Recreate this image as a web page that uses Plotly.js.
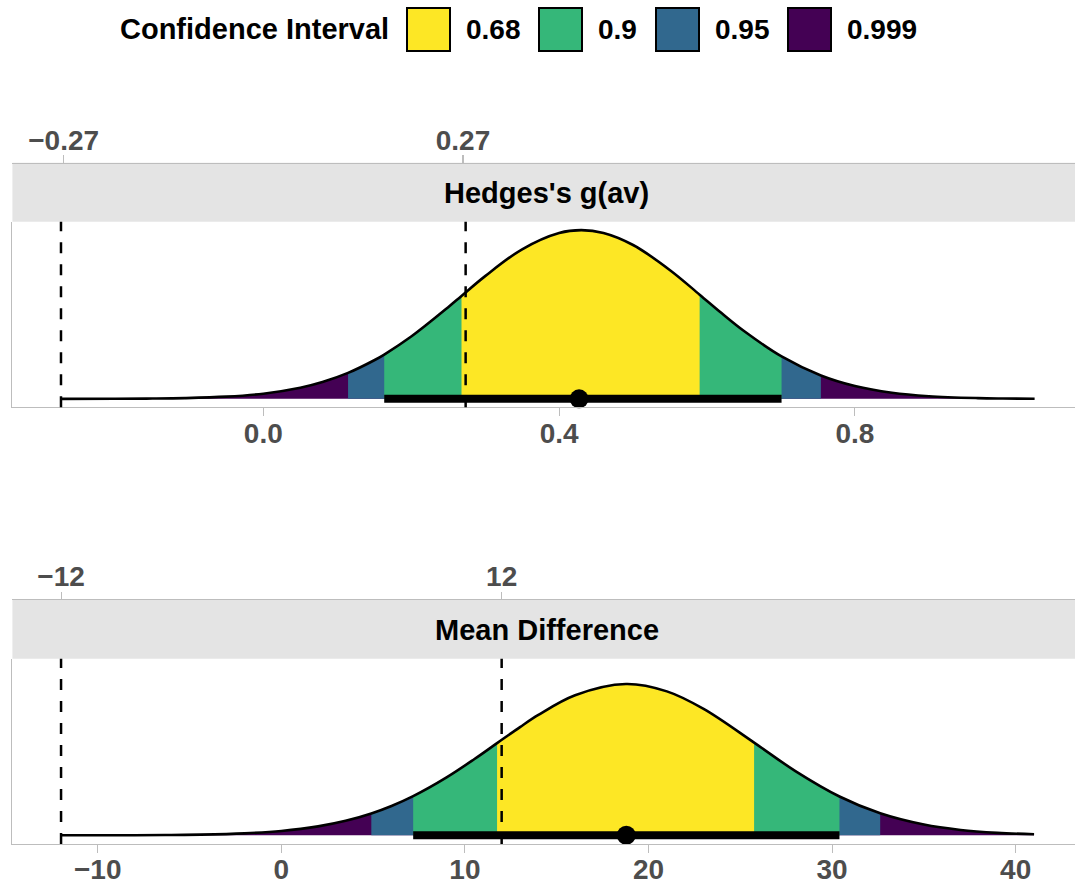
<!DOCTYPE html>
<html>
<head>
<meta charset="utf-8">
<script src="https://cdn.plot.ly/plotly-3.0.1.min.js"></script>
<style>html,body{margin:0;padding:0;background:#fff;}#chart{width:1075px;height:881px;}</style>
</head>
<body>
<div id="chart"></div>
<script>
// ---------- data ----------
const levels = ['0.68', '0.9', '0.95', '0.999'];

// Hedges's g(av) panel
const hedgesX = [-0.2736, -0.2, -0.15, -0.106, -0.05, 0.0, 0.05, 0.08, 0.1146, 0.15, 0.1635, 0.2, 0.25, 0.268, 0.3, 0.35, 0.4, 0.43, 0.46, 0.5, 0.55, 0.59, 0.62, 0.65, 0.7008, 0.754, 0.8, 0.85, 0.9, 0.966, 1.0, 1.043];
const hedgesY = [0.0001, 0.0006, 0.0018, 0.0045, 0.0131, 0.0308, 0.0661, 0.0998, 0.1538, 0.2288, 0.2627, 0.3695, 0.5435, 0.6102, 0.7276, 0.8866, 0.9832, 1.0, 0.9832, 0.9119, 0.7626, 0.6177, 0.5070, 0.4022, 0.2516, 0.1387, 0.0761, 0.0362, 0.0157, 0.0045, 0.0022, 0.0009];
const hedgesLower = [0.268, 0.1635, 0.1146, -0.106];
const hedgesUpper = [0.590, 0.7008, 0.754, 0.966];
const hedgesEstimate = 0.427;
const hedgesBounds = [-0.2736, 0.2736];
const hedgesBoundTicks = [-0.27, 0.27];
const hedgesBoundLabels = ['\u22120.27', '0.27'];
const hedgesTicks = [0.0, 0.4, 0.8];

// Mean Difference panel
const mdX = [-12, -8, -6, -4.4, -2, 0, 2, 3.5, 4.9, 6, 7.18, 9, 10.5, 11.75, 13, 14, 16, 18.77, 21, 23, 25.75, 28, 30.4, 32.62, 35, 37, 39, 41];
const mdY = [0.0001, 0.0007, 0.0021, 0.0045, 0.0130, 0.0289, 0.0591, 0.0957, 0.1444, 0.1939, 0.2589, 0.3829, 0.5026, 0.6091, 0.7154, 0.7954, 0.9257, 1.0, 0.9512, 0.8353, 0.6126, 0.4244, 0.2565, 0.1452, 0.0707, 0.0353, 0.0163, 0.0069];
const mdLower = [11.75, 7.18, 4.9, -4.4];
const mdUpper = [25.75, 30.4, 32.62, 41];
const mdEstimate = 18.79;
const mdBounds = [-12, 12];
const mdBoundTicks = [-12, 12];
const mdBoundLabels = ['\u221212', '12'];
const mdTicks = [-10, 0, 10, 20, 30, 40];

const panelTitles = ["Hedges's g(av)", 'Mean Difference'];

// ---------- styles ----------
const levelColors = ['#FDE725', '#35B779', '#31688E', '#440154'];
const FONT = 'Liberation Sans, Arial, Helvetica, sans-serif';
const W = 1075, H = 881;
const px = v => v / W;
const py = v => 1 - v / H;
const axisGrey = '#BDBDBD';
const tickFont = {family: FONT, size: 28, color: '#4D4D4D', weight: 'bold'};

const traces = [];
function panel(xs, ys, lower, upper, est, xa, ya) {
  // nested CI regions, widest first
  for (let k = levels.length - 1; k >= 0; k--) {
    const sx = [], sy = [];
    for (let i = 0; i < xs.length; i++) {
      if (xs[i] >= lower[k] - 1e-9 && xs[i] <= upper[k] + 1e-9) { sx.push(xs[i]); sy.push(ys[i]); }
    }
    traces.push({x: sx, y: sy, xaxis: xa, yaxis: ya, type: 'scatter', mode: 'lines',
      fill: 'tozeroy', fillcolor: levelColors[k], line: {width: 0, shape: 'spline', color: levelColors[k]},
      hoverinfo: 'skip', showlegend: false});
  }
  // outline
  traces.push({x: xs, y: ys, xaxis: xa, yaxis: ya, type: 'scatter', mode: 'lines',
    line: {color: '#000', width: 2.6, shape: 'spline'}, hoverinfo: 'skip', showlegend: false});
  // 90% CI bar
  traces.push({x: [lower[1], upper[1]], y: [0, 0], xaxis: xa, yaxis: ya, type: 'scatter', mode: 'lines',
    line: {color: '#000', width: 8}, hoverinfo: 'skip', showlegend: false});
  // point estimate
  traces.push({x: [est], y: [0], xaxis: xa, yaxis: ya, type: 'scatter', mode: 'markers',
    marker: {color: '#000', size: 19}, cliponaxis: false, hoverinfo: 'skip', showlegend: false});
}
panel(hedgesX, hedgesY, hedgesLower, hedgesUpper, hedgesEstimate, 'x', 'y');
panel(mdX, mdY, mdLower, mdUpper, mdEstimate, 'x3', 'y3');
// invisible traces so the top (bound) axes are drawn
traces.push({x: hedgesBoundTicks, y: [0, 0], xaxis: 'x2', yaxis: 'y', mode: 'markers', marker: {opacity: 0}, hoverinfo: 'skip', showlegend: false});
traces.push({x: mdBoundTicks, y: [0, 0], xaxis: 'x4', yaxis: 'y3', mode: 'markers', marker: {opacity: 0}, hoverinfo: 'skip', showlegend: false});

const xDomain = [px(12.4), 1];
const hRange = [-0.3393, 1.0976];
const mRange = [-14.65, 43.23];

function bottomAxis(range, ticks, anchor, fmt) {
  return {domain: xDomain, range: range, anchor: anchor, showline: true, linecolor: axisGrey, linewidth: 1.1,
    ticks: 'outside', ticklen: 7.5, tickwidth: 1.1, tickcolor: axisGrey, tickvals: ticks, tickformat: fmt,
    tickfont: tickFont, showgrid: false, zeroline: false, fixedrange: true, ticklabelstandoff: -7};
}
function topAxis(range, ticks, labels, over, pos) {
  return {overlaying: over, anchor: 'free', position: pos, side: 'top', range: range, showline: true,
    linecolor: axisGrey, linewidth: 1.1, ticks: 'outside', ticklen: 7.5, tickwidth: 1.1, tickcolor: axisGrey,
    tickvals: ticks, ticktext: labels, tickfont: tickFont, showgrid: false, zeroline: false, fixedrange: true,
    ticklabelstandoff: -6};
}
function yAxis(domain, range, anchor) {
  return {domain: domain, range: range, anchor: anchor, showline: true, linecolor: axisGrey, linewidth: 1.1,
    ticks: '', showticklabels: false, showgrid: false, zeroline: false, fixedrange: true};
}

const shapes = [];
const annotations = [];
// strips
const strips = [[162.7, 221.7, 192.5], [599, 658.7, 630]];
strips.forEach((s, i) => {
  shapes.push({type: 'rect', xref: 'paper', yref: 'paper', x0: px(12.4), x1: 1, y0: py(s[1]), y1: py(s[0]),
    fillcolor: '#E4E4E4', line: {width: 0}, layer: 'below'});
  annotations.push({xref: 'paper', yref: 'paper', x: px(546.5), y: py(s[2]), xanchor: 'center', yanchor: 'middle',
    text: panelTitles[i], showarrow: false, font: {family: FONT, size: 29, color: '#000', weight: 'bold'}});
});
// equivalence bound lines
hedgesBounds.forEach(b => shapes.push({type: 'line', xref: 'x', yref: 'y domain', x0: b, x1: b, y0: 0, y1: 1,
  line: {color: '#000', width: 2.5, dash: '11px,11px'}}));
mdBounds.forEach(b => shapes.push({type: 'line', xref: 'x3', yref: 'y3 domain', x0: b, x1: b, y0: 0, y1: 1,
  line: {color: '#000', width: 2.5, dash: '11px,11px'}}));

// custom legend
annotations.push({xref: 'paper', yref: 'paper', x: px(118), y: py(29), xanchor: 'left', yanchor: 'middle',
  text: 'Confidence Interval', showarrow: false, font: {family: FONT, size: 29, color: '#000', weight: 'bold'}});
const swatchX = [407, 539, 656, 788];
levels.forEach((lv, i) => {
  shapes.push({type: 'rect', xref: 'paper', yref: 'paper', x0: px(swatchX[i]), x1: px(swatchX[i] + 43),
    y0: py(51), y1: py(8), fillcolor: levelColors[i], line: {color: '#000', width: 2}});
  annotations.push({xref: 'paper', yref: 'paper', x: px(swatchX[i] + 57), y: py(29), xanchor: 'left', yanchor: 'middle',
    text: lv, showarrow: false, font: {family: FONT, size: 28, color: '#000', weight: 'bold'}});
});

const layout = {
  width: W, height: H, margin: {l: 0, r: 0, t: 0, b: 0, pad: 0},
  paper_bgcolor: '#fff', plot_bgcolor: 'rgba(0,0,0,0)', showlegend: false,
  font: {family: FONT},
  xaxis: bottomAxis(hRange, hedgesTicks, 'y', '.1f'),
  yaxis: yAxis([py(407.3), py(221.7)], [-0.05, 1.05], 'x'),
  xaxis2: topAxis(hRange, hedgesBoundTicks, hedgesBoundLabels, 'x', py(162.7)),
  xaxis3: bottomAxis(mRange, mdTicks, 'y3', ''),
  yaxis3: yAxis([py(844), py(658.7)], [-0.0575, 1.1672], 'x3'),
  xaxis4: topAxis(mRange, mdBoundTicks, mdBoundLabels, 'x3', py(599)),
  shapes: shapes, annotations: annotations
};
Plotly.newPlot('chart', traces, layout, {staticPlot: true, displayModeBar: false});
</script>
</body>
</html>
